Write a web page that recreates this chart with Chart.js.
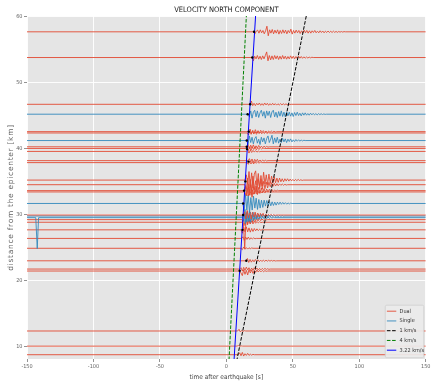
<!DOCTYPE html>
<html>
<head>
<meta charset="utf-8">
<script src="https://cdn.jsdelivr.net/npm/chart.js@4.4.1/dist/chart.umd.min.js"></script>
<style>
  html, body { margin: 0; padding: 0; background: #ffffff; }
  #wrap { width: 432px; height: 382px; }
</style>
</head>
<body>
<div id="wrap"><canvas id="c" width="432" height="382"></canvas></div>
<script>
// ---- axes ----
const timeRange = [-150, 150];          // s
const distanceRange = [8.05, 60.1];     // km
const timeTicks = [-150, -100, -50, 0, 50, 100, 150];
const distanceTicks = [10, 20, 30, 40, 50, 60];
const distanceTitle = 'distance from the epicenter [km]';

// ---- stations: epicentral distance, instrument type, onset time ----
const traceDistances = [57.7, 53.8, 46.7, 45.2, 42.55, 42.35, 41.2, 40.25, 40.0, 39.55,
  38.15, 37.85, 35.2, 34.5, 33.6, 33.4, 31.65, 29.9, 29.75, 29.5, 29.2, 28.8,
  27.65, 26.35, 24.85, 22.95, 21.7, 21.4, 12.3, 10.0, 8.7];
const traceTypes = ['Dual', 'Dual', 'Dual', 'Single', 'Dual', 'Dual', 'Single', 'Dual', 'Dual', 'Dual',
  'Dual', 'Dual', 'Dual', 'Dual', 'Dual', 'Dual', 'Single', 'Dual', 'Single', 'Single', 'Dual', 'Dual',
  'Dual', 'Dual', 'Dual', 'Dual', 'Dual', 'Dual', 'Dual', 'Dual', 'Dual'];
const traceOnsets = [20.5, 19.3, 17.8, 16.3, 16.8, 15.6, 15.3, 15.3, 15.5, 15.0,
  16.3, 15.5, 14.0, 14.0, 13.3, 13.6, 12.4, 12.6, 12.0, 12.3, 11.8, 12.0,
  11.0, 11.5, 11.0, 14.8, 10.0, 10.0, 8.5, 8.0, 9.0];
const sampleStep = 1; // s between velocity samples after the onset

// north velocity after the onset, scaled to km on the distance axis
const traceWaves = [
  [0, -0.3, 0.1, 0.25, -0.2, 0.3, -0.15, 0.2, -0.3, 0.15, 0.85, -0.6, 0.3, -0.2, 0.35, -0.3, 0.25, -0.2, 0.3, -0.35, 0.2, -0.25, 0.3, -0.2, 0.25, -0.3, 0.2, -0.15, 0.4, -0.35, 0.2, -0.2, 0.25, -0.15, 0.2, -0.25, 0.15, -0.2, 0.25, -0.15, 0.2, -0.2, 0.15, -0.2, 0.15, -0.1, 0.2, -0.15, 0.1, -0.15, 0.15, -0.1, 0.12, -0.15, 0.1, -0.1, 0.12, -0.1, 0.08, -0.1, 0.1, -0.08, 0.06, -0.08, 0.05, -0.05, 0.04, -0.04, 0.03, 0],
  [0, -0.5, 0.2, -0.2, 0.3, -0.25, 0.2, -0.3, 0.25, -0.2, 0.3, 0.85, -0.5, 0.3, -0.35, 0.25, -0.3, 0.3, -0.2, 0.25, -0.3, 0.2, -0.25, 0.3, -0.2, 0.2, -0.25, 0.15, -0.2, 0.25, -0.15, 0.2, -0.2, 0.15, -0.15, 0.2, -0.1, 0.15, -0.12, 0.1, -0.1, 0.08, -0.08, 0.06, -0.05, 0.04, 0],
  [0, 0.5, -0.2, 0.15, -0.2, 0.15, -0.1, 0.2, -0.15, 0.1, -0.15, 0.2, -0.1, 0.15, -0.15, 0.1, -0.12, 0.15, -0.1, 0.1, -0.12, 0.08, -0.1, 0.1, -0.08, 0.08, -0.06, 0.06, -0.05, 0.04, -0.03, 0],
  [0, -0.4, 0.5, -0.6, 0.3, 0.6, -0.4, 0.5, -0.5, 0.2, 0.6, -0.3, 0.4, -0.6, 0.5, -0.2, 0.45, -0.5, 0.35, 0.6, -0.4, 0.3, -0.5, 0.4, -0.3, 0.5, -0.35, 0.3, -0.4, 0.35, -0.25, 0.3, -0.3, 0.2, -0.35, 0.25, -0.2, 0.3, -0.2, 0.15, -0.25, 0.2, -0.15, 0.2, -0.15, 0.1, -0.15, 0.15, -0.1, 0.12, -0.1, 0.08, -0.1, 0.08, -0.06, 0.06, -0.05, 0.04, -0.03, 0],
  [0, 0.4, -0.3, 0.2, -0.25, 0.3, -0.2, 0.15, -0.2, 0.2, -0.15, 0.15, -0.12, 0.1, -0.15, 0.1, -0.1, 0.08, -0.08, 0.06, -0.05, 0],
  [0, -0.3, 0.3, -0.2, 0.25, -0.15, 0.2, -0.2, 0.15, -0.1, 0.15, -0.12, 0.1, -0.08, 0.1, -0.06, 0.05, 0],
  [0, -0.6, 0.7, -0.3, 0.5, -0.5, 0.3, 0.6, -0.4, 0.2, -0.6, 0.5, -0.2, 0.4, -0.5, 0.3, 0.7, -0.3, 0.2, 0.8, -0.5, 0.4, -0.3, 0.5, -0.4, 0.2, -0.3, 0.35, -0.2, 0.25, -0.3, 0.2, -0.15, 0.25, -0.2, 0.1, -0.15, 0.15, -0.1, 0.1, -0.08, 0.06, -0.05, 0.04, 0],
  [0, 0.35, -0.3, 0.25, -0.2, 0.3, -0.25, 0.15, -0.2, 0.2, -0.15, 0.1, -0.12, 0.1, -0.08, 0.06, -0.05, 0],
  [0, -0.3, 0.25, -0.3, 0.2, -0.15, 0.25, -0.2, 0.1, -0.15, 0.1, -0.08, 0.06, 0],
  [0, 0.2, -0.25, 0.2, -0.15, 0.15, -0.1, 0.12, -0.1, 0.06, -0.05, 0],
  [0, 0.3, -0.2, 0.25, -0.3, 0.2, -0.15, 0.2, -0.15, 0.1, -0.12, 0.1, -0.08, 0.06, -0.05, 0],
  [0, -0.25, 0.2, -0.2, 0.15, -0.2, 0.15, -0.1, 0.12, -0.08, 0.06, 0],
  [0, 0.8, -0.6, 1.3, -0.9, 1.1, -1.2, 0.9, 1.4, -0.8, 1.0, -1.1, 0.7, -0.9, 1.2, -0.6, 0.8, -0.7, 0.9, -0.5, 0.6, -0.4, 0.5, -0.4, 0.3, -0.35, 0.3, -0.25, 0.2, -0.25, 0.2, -0.15, 0.2, -0.15, 0.15, -0.12, 0.1, -0.12, 0.1, -0.08, 0.1, -0.06, 0.05, -0.05, 0],
  [0, -0.7, 1.0, -1.2, 0.8, -1.0, 1.3, -0.8, 0.6, -1.1, 0.9, -0.6, 0.8, -0.7, 0.5, -0.6, 0.4, -0.5, 0.35, -0.3, 0.3, -0.25, 0.2, -0.2, 0.15, -0.15, 0.12, -0.1, 0.1, -0.08, 0.06, -0.05, 0],
  [0, 0.6, -0.8, 1.0, -0.7, 0.9, -1.0, 0.6, -0.5, 0.7, -0.6, 0.5, -0.4, 0.4, -0.35, 0.3, -0.3, 0.25, -0.2, 0.2, -0.15, 0.15, -0.12, 0.1, -0.08, 0.06, 0],
  [0, -0.4, 0.5, -0.6, 0.4, -0.5, 0.3, -0.35, 0.3, -0.25, 0.2, -0.2, 0.15, -0.12, 0.1, -0.08, 0.05, 0],
  [0, -1.2, 1.4, -1.0, 1.3, -1.4, 0.9, -1.0, 1.1, -0.7, 0.8, -0.9, 0.6, -0.7, 0.5, -0.6, 0.5, -0.4, 0.45, -0.35, 0.3, -0.35, 0.25, -0.3, 0.2, -0.25, 0.2, -0.15, 0.2, -0.12, 0.15, -0.1, 0.12, -0.1, 0.08, -0.06, 0.05, 0],
  [0, 0.5, -0.6, 0.7, -0.4, 0.5, -0.6, 0.4, -0.3, 0.45, -0.35, 0.3, -0.3, 0.25, -0.2, 0.25, -0.2, 0.15, -0.15, 0.12, -0.1, 0.1, -0.08, 0.06, -0.05, 0],
  [0, -0.8, 1.0, -0.9, 0.7, -0.8, 0.6, -0.5, 0.6, -0.4, 0.35, -0.4, 0.3, -0.25, 0.3, -0.2, 0.2, -0.25, 0.15, -0.2, 0.15, -0.12, 0.15, -0.1, 0.1, -0.12, 0.08, -0.1, 0.06, -0.05, 0.05, -0.04, 0],
  [0, 0.7, -0.9, 0.8, -0.6, 0.5, -0.7, 0.4, -0.45, 0.35, -0.3, 0.3, -0.25, 0.2, -0.2, 0.2, -0.15, 0.12, -0.15, 0.1, -0.1, 0.08, -0.06, 0.05, 0],
  [0, -0.5, -4.4, 0.6, -0.8, 0.5, -0.6, 0.4, -0.4, 0.3, -0.3, 0.25, -0.2, 0.2, -0.15, 0.1, -0.1, 0.08, -0.05, 0],
  [0, 0.4, -0.5, 0.35, -0.3, 0.4, -0.25, 0.2, -0.25, 0.15, -0.15, 0.12, -0.1, 0.08, -0.05, 0],
  [0, -0.5, 0.4, -0.3, 0.45, -0.3, 0.3, -0.35, 0.2, -0.25, 0.2, -0.15, 0.15, -0.12, 0.1, -0.08, 0.06, 0],
  [0, 0.25, -0.3, 0.2, -0.15, 0.2, -0.15, 0.1, -0.1, 0.08, -0.05, 0],
  [0, -0.2, 0.2, -0.15, 0.1, -0.12, 0.08, -0.06, 0.05, 0],
  [0, 0.35, -0.25, 0.2, -0.2, 0.15, -0.15, 0.2, -0.1, 0.15, -0.12, 0.1, -0.1, 0.12, -0.08, 0.1, -0.06, 0.08, -0.05, 0.06, -0.04, 0.05, -0.03, 0],
  [0, 0.2, -0.3, 0.25, -0.2, 0.3, -0.15, 0.2, -0.25, 0.15, -0.2, 0.2, -0.1, 0.15, -0.15, 0.1, -0.12, 0.1, -0.08, 0.1, -0.06, 0.05, -0.04, 0],
  [0, -0.3, -0.7, 0.2, -0.5, 0.1, -0.6, 0.2, -0.3, 0.15, -0.35, 0.1, -0.2, 0.15, -0.15, 0.1, -0.12, 0.08, -0.1, 0.06, -0.05, 0],
  [0, 0.25, -0.15, 0.1, -0.08, 0.05, 0],
  [0, 0.08, -0.06, 0.04, 0],
  [0, 0.3, -0.15, 0.35, -0.2, 0.15, -0.1, 0.2, -0.1, 0.08, -0.06, 0.05, 0]
];

// instrument glitch recorded long before the event on one single-component station
const glitchTrace = 19;
const glitchTimes = [-143.4, -142.3, -141.3];
const glitchValues = [0, -4.7, 0];

// hand-picked arrivals
const pickTimes = [20.8, 19.5, 17.9, 16.0, 16.8, 15.3, 15.3, 15.5, 16.6, 14.3, 13.3, 12.6, 12.6, 12.1, 15.0, 10.0];
const pickDistances = [57.7, 53.8, 46.7, 45.2, 42.55, 41.2, 40.25, 39.9, 38.0, 35.0, 33.6, 31.65, 29.9, 27.65, 22.95, 21.45];

// reference moveout lines: t = d / v + delay
const speedLabels = ['1 km/s', '4 km/s', '3.22 km/s'];
const speeds = [1, 4, 3.22];
const speedDelays = [0, 0, 3.3];
const speedColors = ['#000000', '#008000', '#0000ff'];
const speedDashes = [[3.6, 1.6], [3.6, 1.6], []];

const typeColors = { Dual: 'rgba(226,74,51,0.9)', Single: 'rgba(52,138,189,0.9)' };
const legendOrder = ['Dual', 'Single'].concat(speedLabels);

// ---- datasets ----
const datasets = [];

datasets.push({
  type: 'scatter',
  label: 'picks',
  data: pickTimes.map((t, i) => ({ x: t, y: pickDistances[i] })),
  pointRadius: 1.2,
  pointBackgroundColor: '#000000',
  pointBorderWidth: 0,
  order: 0
});

speeds.forEach((v, i) => {
  const ends = [0, 70];
  datasets.push({
    label: speedLabels[i],
    data: ends.map(d => ({ x: d / v + speedDelays[i], y: d })),
    borderColor: speedColors[i],
    borderWidth: 1,
    borderDash: speedDashes[i],
    pointRadius: 0,
    order: 1
  });
});

traceDistances.forEach((d, k) => {
  const pts = [{ x: timeRange[0], y: d }];
  if (k === glitchTrace) {
    glitchTimes.forEach((t, j) => pts.push({ x: t, y: d + glitchValues[j] }));
  }
  traceWaves[k].forEach((a, j) => pts.push({ x: traceOnsets[k] + j * sampleStep, y: d + a }));
  pts.push({ x: timeRange[1], y: d });
  datasets.push({
    label: traceTypes[k],
    data: pts,
    borderColor: typeColors[traceTypes[k]],
    borderWidth: 1,
    pointRadius: 0,
    order: 2 + k
  });
});

// ---- plugins ----
const panelBackground = {
  id: 'panelBackground',
  beforeDraw(chart) {
    const { ctx, chartArea: a } = chart;
    ctx.save();
    ctx.fillStyle = '#e5e5e5';
    ctx.fillRect(a.left, a.top, a.right - a.left, a.bottom - a.top);
    ctx.restore();
  }
};

// rotated, loosely tracked y-axis label
const distanceLabel = {
  id: 'distanceLabel',
  afterDraw(chart) {
    const { ctx, chartArea: a } = chart;
    ctx.save();
    ctx.translate(11, (a.top + a.bottom) / 2 + 10);
    ctx.rotate(-Math.PI / 2);
    ctx.font = "7.5px 'DejaVu Sans', sans-serif";
    if ('letterSpacing' in ctx) ctx.letterSpacing = '0.7px';
    ctx.fillStyle = '#666666';
    ctx.textAlign = 'center';
    ctx.textBaseline = 'middle';
    ctx.fillText(distanceTitle, 0, 0);
    ctx.restore();
  }
};

const cornerLegend = {
  id: 'cornerLegend',
  afterDatasetsDraw(chart) {
    const { ctx, chartArea: a } = chart;
    const items = legendOrder.map(l => chart.data.datasets.find(ds => ds.label === l));
    const rowH = 9.75, w = 38.5, h = 52.5;
    const x0 = a.right - 2 - w, y0 = a.bottom - 1.3 - h;
    ctx.save();
    ctx.fillStyle = 'rgba(236,236,236,0.92)';
    ctx.strokeStyle = '#cfcfcf';
    ctx.lineWidth = 0.8;
    ctx.beginPath();
    ctx.roundRect(x0, y0, w, h, 1.5);
    ctx.fill();
    ctx.stroke();
    ctx.font = "5.5px 'Liberation Sans Narrow', 'DejaVu Sans Condensed', sans-serif";
    ctx.textBaseline = 'middle';
    items.forEach((ds, i) => {
      const y = y0 + 6 + rowH * i;
      ctx.strokeStyle = ds.borderColor;
      ctx.lineWidth = 1;
      ctx.setLineDash(ds.borderDash || []);
      ctx.beginPath();
      ctx.moveTo(x0 + 1.6, y);
      ctx.lineTo(x0 + 11, y);
      ctx.stroke();
      ctx.setLineDash([]);
      ctx.fillStyle = '#333333';
      ctx.fillText(ds.label, x0 + 14.3, y);
    });
    ctx.restore();
  }
};

const narrow = "'Liberation Sans Narrow', 'DejaVu Sans Condensed', sans-serif";

new Chart(document.getElementById('c'), {
  type: 'line',
  data: { datasets },
  options: {
    responsive: false,
    animation: false,
    devicePixelRatio: 1,
    parsing: false,
    normalized: true,
    layout: { padding: { left: 0, right: 4, top: 0, bottom: 0 } },
    plugins: {
      legend: { display: false },
      tooltip: { enabled: false },
      title: {
        display: true,
        text: 'VELOCITY NORTH COMPONENT',
        fullSize: false,
        color: '#222222',
        font: { family: narrow, size: 7.5, weight: 'normal' },
        padding: { top: 5.5, bottom: 1.5 }
      }
    },
    scales: {
      x: {
        type: 'linear',
        min: timeRange[0],
        max: timeRange[1],
        afterBuildTicks: s => { s.ticks = timeTicks.map(v => ({ value: v })); },
        afterFit: s => { s.height = 23; },
        grid: { color: '#ffffff', lineWidth: 0.9, tickColor: '#777777', tickLength: 3, tickWidth: 0.8 },
        border: { display: false },
        ticks: { color: '#666666', font: { family: narrow, size: 5.5 }, padding: 1.5, maxRotation: 0 },
        title: {
          display: true,
          text: 'time after earthquake [s]',
          color: '#444444',
          font: { family: narrow, size: 6.5 },
          padding: { top: 0, bottom: 1 }
        }
      },
      y: {
        type: 'linear',
        min: distanceRange[0],
        max: distanceRange[1],
        afterBuildTicks: s => { s.ticks = distanceTicks.map(v => ({ value: v })); },
        afterFit: s => { s.width = 27; },
        grid: { color: '#ffffff', lineWidth: 0.9, tickColor: '#777777', tickLength: 3, tickWidth: 0.8 },
        border: { display: false },
        ticks: { color: '#666666', font: { family: narrow, size: 5.5 }, padding: 1.5 }
      }
    }
  },
  plugins: [panelBackground, distanceLabel, cornerLegend]
});
</script>
</body>
</html>
